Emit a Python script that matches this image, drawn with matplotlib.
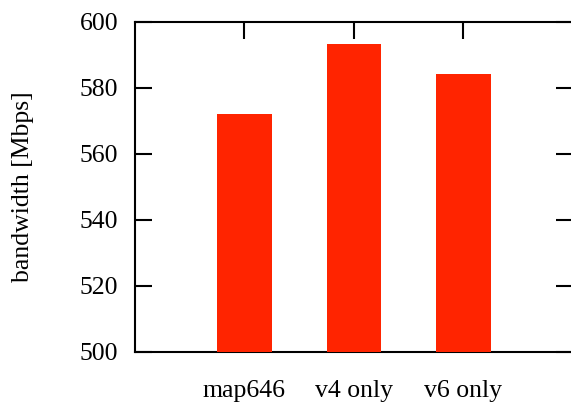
import numpy as np
from matplotlib import pyplot as plt

# bandwidth per configuration
labels = ['map646', 'v4 only', 'v6 only']
bandwidth = [572.2, 593.2, 584.2]

plt.rcParams['font.family'] = 'Liberation Serif'
plt.rcParams['font.size'] = 18.5

fig = plt.figure(figsize=(5.71, 4.05), dpi=100)
# right spine sits just past the image edge, as in the original
ax = fig.add_axes([0.2364, 0.1309, 0.7671, 0.8148])

x = np.arange(len(labels))
ax.bar(x, bandwidth, width=0.5, color='#ff2400', zorder=3)

ax.set_xlim(-1, 3)
ax.set_ylim(500, 600)
ax.set_yticks(np.arange(500, 601, 20))
ax.set_xticks(x)
ax.set_xticklabels(labels)
ax.set_ylabel('bandwidth [Mbps]', labelpad=33)

for s in ax.spines.values():
    s.set_linewidth(1.5)
ax.tick_params(axis='both', direction='in', length=12, width=1.5,
               top=True, right=True)
ax.tick_params(axis='x', pad=20)
ax.tick_params(axis='y', pad=12)

plt.savefig('out.png', dpi=100)
